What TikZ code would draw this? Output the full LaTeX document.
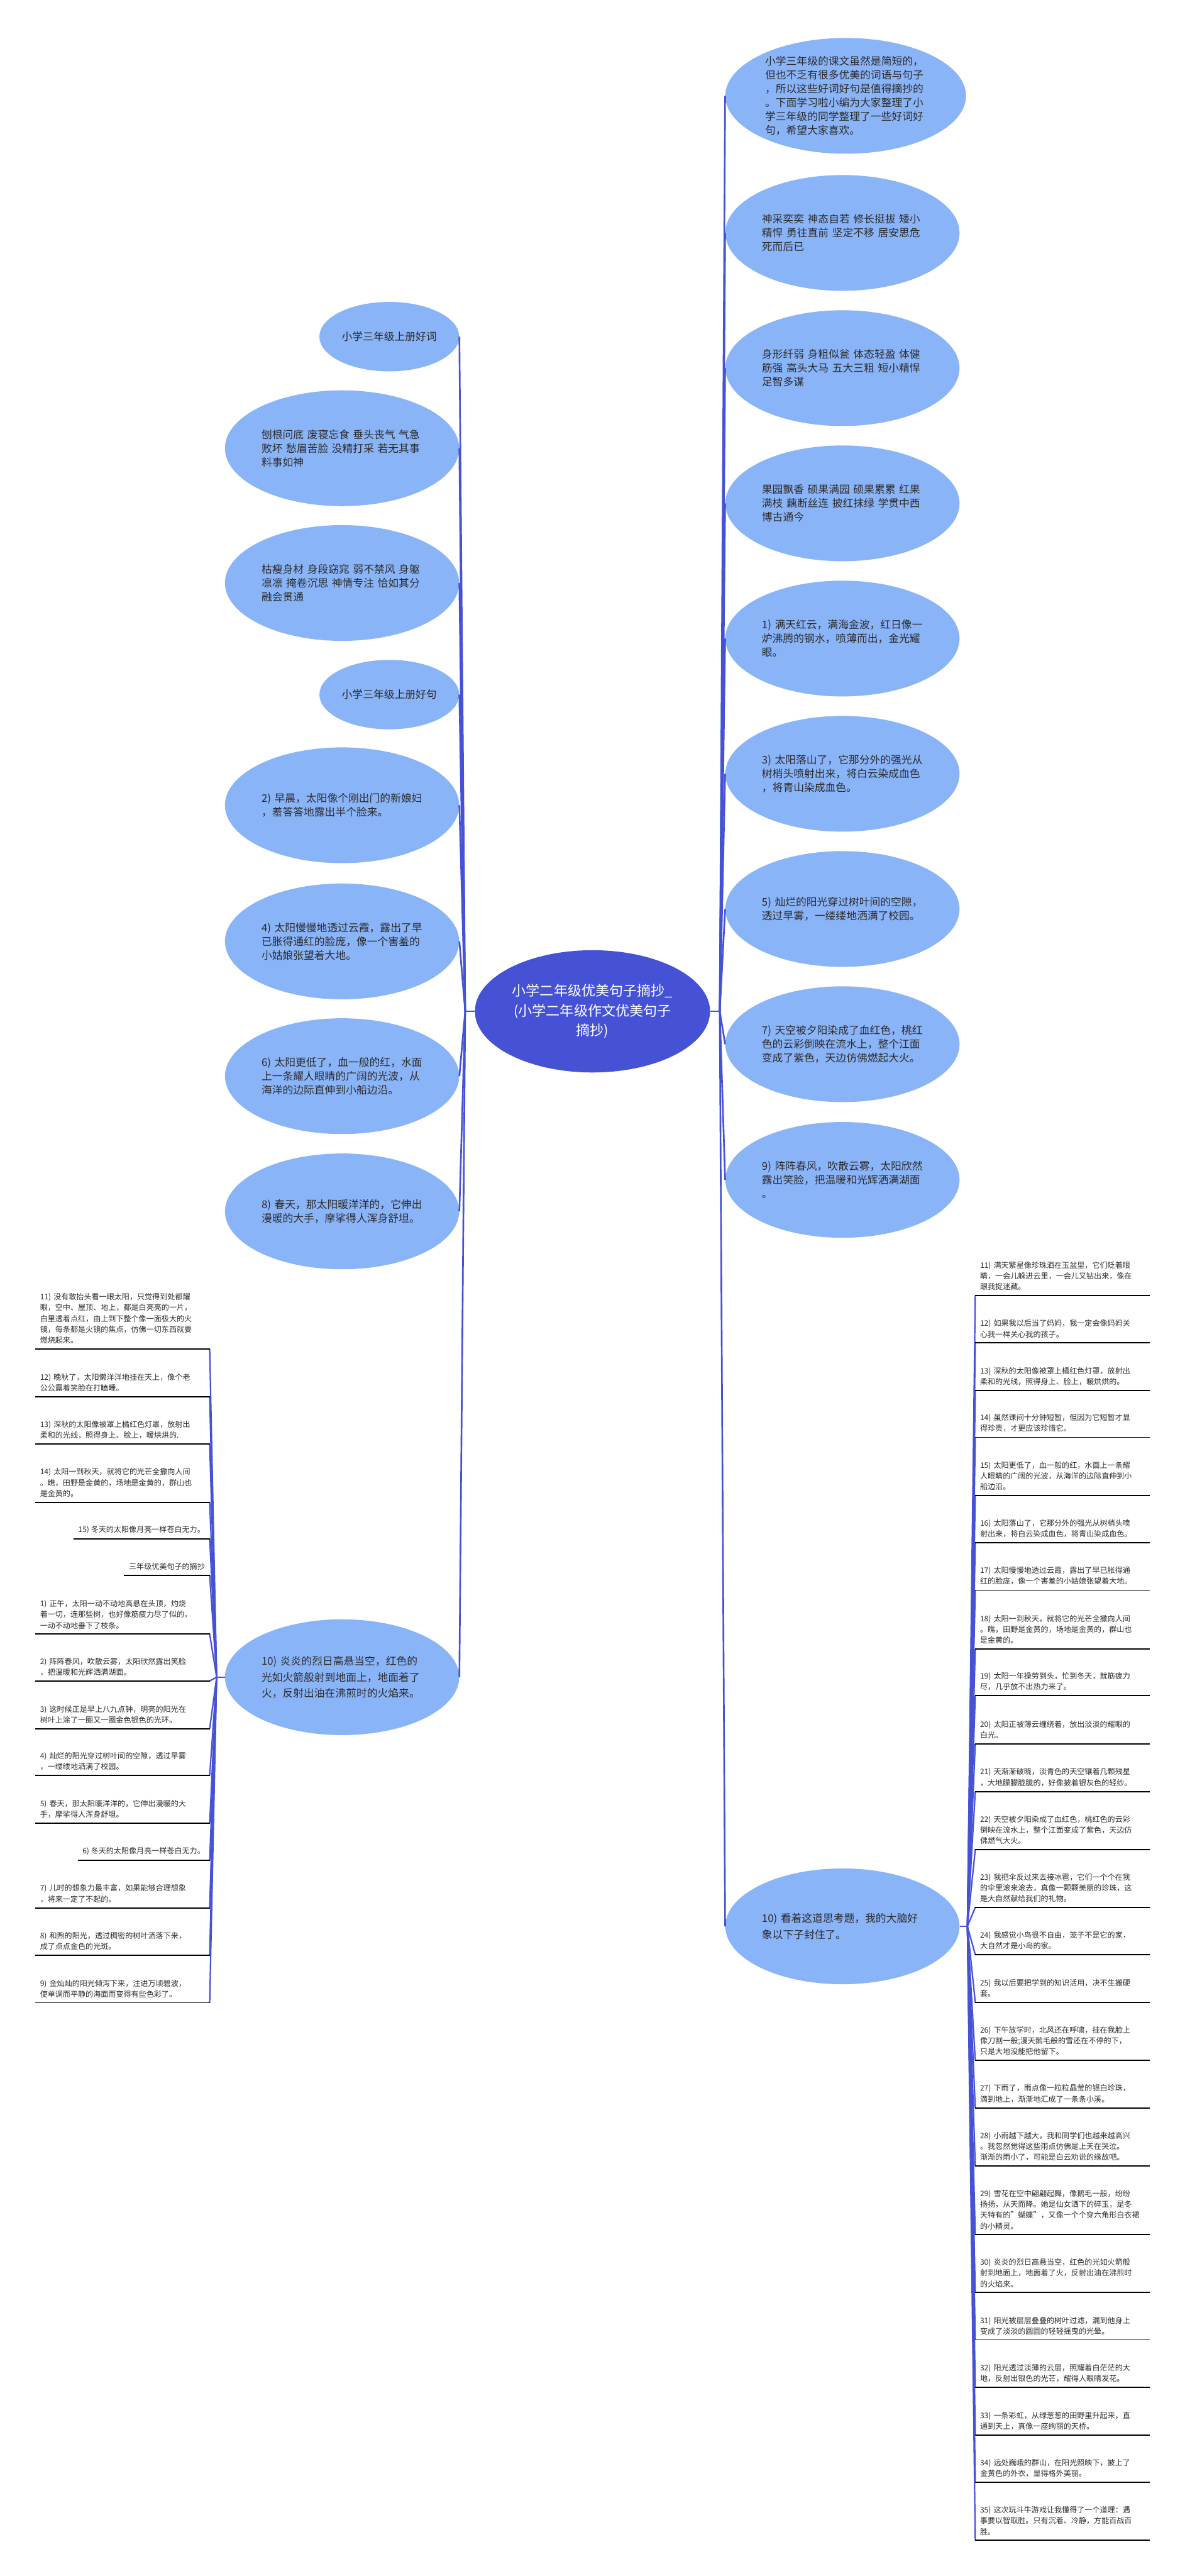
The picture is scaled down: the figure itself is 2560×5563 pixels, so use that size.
\documentclass[tikz,border=0pt]{standalone}
\usepackage{fontspec}
\setmainfont{Noto Sans CJK SC}
\usetikzlibrary{shapes.geometric}
\definecolor{bubblue}{HTML}{8AB4F8}
\definecolor{hubblue}{HTML}{4552D5}
\definecolor{inkgray}{HTML}{2B2B2B}

\begin{document}
\begin{tikzpicture}[x=0.5pt,y=-0.5pt,
  hub/.style={ellipse,fill=hubblue,text=white,inner sep=0pt,minimum width=254pt,minimum height=132pt,align=center,font=\fontsize{15}{21.5}\selectfont},
  bub/.style={ellipse,fill=bubblue,text=inkgray,inner sep=0pt,minimum width=253pt,minimum height=125pt,text width=174pt,align=left,font=\fontsize{11.4}{15}\selectfont},
  bubwide/.style={bub,font=\fontsize{11.4}{17.5}\selectfont},
  tag/.style={ellipse,fill=bubblue,text=inkgray,inner sep=0pt,minimum width=151pt,minimum height=75pt,font=\fontsize{11.4}{15}\selectfont},
  leaf/.style={inner xsep=5pt,inner ysep=5.4pt,text=inkgray,align=left,font=\fontsize{8.2}{11.7}\selectfont},
  rleaf/.style={leaf,text width=178pt,anchor=south west},
  lleaf/.style={leaf,text width=178pt,anchor=south east},
  lshort/.style={leaf,anchor=south east},
  link/.style={draw=hubblue,line width=1.8pt},
  twig/.style={draw=hubblue,line width=1.5pt},
  uline/.style={draw=black,line width=1.3pt}]
\path[fill=white] (0,0) rectangle (2560,5563);
\useasboundingbox (0,0) rectangle (2560,5563);

\node[hub] (root) at (1280,2184) {小学二年级优美句子摘抄\_\\(小学二年级作文优美句子\\摘抄)};
\coordinate (jl) at (1005,2184);
\coordinate (jr) at (1555,2184);

\node[bub,minimum width=260pt] (ri) at (1827,207) {小学三年级的课文虽然是简短的，\\但也不乏有很多优美的词语与句子\\，所以这些好词好句是值得摘抄的\\。下面学习啦小编为大家整理了小\\学三年级的同学整理了一些好词好\\句，希望大家喜欢。};
\node[bub] (rw1) at (1820,503) {神采奕奕 神态自若 修长挺拔 矮小\\精悍 勇往直前 坚定不移 居安思危\\死而后已};
\node[bub] (rw2) at (1820,795) {身形纤弱 身粗似瓮 体态轻盈 体健\\筋强 高头大马 五大三粗 短小精悍\\足智多谋};
\node[bub] (rw3) at (1820,1087) {果园飘香 硕果满园 硕果累累 红果\\满枝 藕断丝连 披红抹绿 学贯中西\\博古通今};
\node[bub] (rs1) at (1820,1379) {1) 满天红云，满海金波，红日像一\\炉沸腾的钢水，喷薄而出，金光耀\\眼。};
\node[bub] (rs3) at (1820,1671) {3) 太阳落山了，它那分外的强光从\\树梢头喷射出来，将白云染成血色\\，将青山染成血色。};
\node[bub] (rs5) at (1820,1963) {5) 灿烂的阳光穿过树叶间的空隙，\\透过早雾，一缕缕地洒满了校园。};
\node[bub] (rs7) at (1820,2255) {7) 天空被夕阳染成了血红色，桃红\\色的云彩倒映在流水上，整个江面\\变成了紫色，天边仿佛燃起大火。};
\node[bub] (rs9) at (1820,2548) {9) 阵阵春风，吹散云雾，太阳欣然\\露出笑脸，把温暖和光辉洒满湖面\\。};
\node[bubwide] (rs10) at (1820,4160) {10) 看着这道思考题，我的大脑好\\象以下子封住了。};

\node[tag] (lw1) at (841,727) {小学三年级上册好词};
\node[bub] (lw2) at (739,968) {刨根问底 废寝忘食 垂头丧气 气急\\败坏 愁眉苦脸 没精打采 若无其事\\料事如神};
\node[bub] (lw3) at (739,1259) {枯瘦身材 身段窈窕 弱不禁风 身躯\\凛凛 掩卷沉思 神情专注 恰如其分\\融会贯通};
\node[tag] (lw4) at (841,1500) {小学三年级上册好句};
\node[bub] (ls2) at (739,1739) {2) 早晨，太阳像个刚出门的新娘妇\\，羞答答地露出半个脸来。};
\node[bub] (ls4) at (739,2033) {4) 太阳慢慢地透过云霞，露出了早\\已胀得通红的脸庞，像一个害羞的\\小姑娘张望着大地。};
\node[bub] (ls6) at (739,2324) {6) 太阳更低了，血一般的红，水面\\上一条耀人眼睛的广阔的光波，从\\海洋的边际直伸到小船边沿。};
\node[bub] (ls8) at (739,2616) {8) 春天，那太阳暖洋洋的，它伸出\\漫暖的大手，摩挲得人浑身舒坦。};
\node[bubwide] (ls10) at (739,3622) {10) 炎炎的烈日高悬当空，红色的\\光如火箭般射到地面上，地面着了\\火，反射出油在沸煎时的火焰来。};

\coordinate (jl2) at (468,3622);
\coordinate (jr2) at (2090,4160);

\node[lleaf] (la11) at (453,2913) {11) 没有敢抬头看一眼太阳，只觉得到处都耀\\眼，空中、屋顶、地上，都是白亮亮的一片，\\白里透着点红，由上到下整个像一面极大的火\\镜，每条都是火镜的焦点，仿佛一切东西就要\\燃烧起来。};
\node[lleaf] (la12) at (453,3016) {12) 晚秋了，太阳懒洋洋地挂在天上，像个老\\公公露着笑脸在打瞌睡。};
\node[lleaf] (la13) at (453,3118) {13) 深秋的太阳像被罩上橘红色灯罩，放射出\\柔和的光线，照得身上、脸上，暖烘烘的.};
\node[lleaf] (la14) at (453,3244) {14) 太阳一到秋天，就将它的光芒全撒向人间\\。瞧，田野是金黄的，场地是金黄的，群山也\\是金黄的。};
\node[lshort] (la15) at (453,3323) {15) 冬天的太阳像月亮一样苍白无力。};
\node[lshort] (lhead) at (453,3402) {三年级优美句子的摘抄};
\node[lleaf] (lb1) at (453,3529) {1) 正午，太阳一动不动地高悬在头顶，灼烧\\着一切，连那些树，也好像筋疲力尽了似的，\\一动不动地垂下了枝条。};
\node[lleaf] (lb2) at (453,3630) {2) 阵阵春风，吹散云雾，太阳欣然露出笑脸\\，把温暖和光辉洒满湖面。};
\node[lleaf] (lb3) at (453,3733) {3) 这时候正是早上八九点钟，明亮的阳光在\\树叶上涂了一圈又一圈金色银色的光环。};
\node[lleaf] (lb4) at (453,3834) {4) 灿烂的阳光穿过树叶间的空隙，透过早雾\\，一缕缕地洒满了校园。};
\node[lleaf] (lb5) at (453,3937) {5) 春天，那太阳暖洋洋的，它伸出漫暖的大\\手，摩挲得人浑身舒坦。};
\node[lshort] (lb6) at (453,4017) {6) 冬天的太阳像月亮一样苍白无力。};
\node[lleaf] (lb7) at (453,4120) {7) 儿时的想象力最丰富，如果能够合理想象\\，将来一定了不起的。};
\node[lleaf] (lb8) at (453,4222) {8) 和煦的阳光，透过稠密的树叶洒落下来，\\成了点点金色的光斑。};
\node[lleaf] (lb9) at (453,4325) {9) 金灿灿的阳光倾泻下来，注进万顷碧波，\\使单调而平静的海面而变得有些色彩了。};

\node[rleaf] (rc11) at (2107,2798) {11) 满天繁星像珍珠洒在玉盆里，它们眨着眼\\睛，一会儿躲进云里，一会儿又钻出来，像在\\跟我捉迷藏。};
\node[rleaf] (rc12) at (2107,2900) {12) 如果我以后当了妈妈，我一定会像妈妈关\\心我一样关心我的孩子。};
\node[rleaf] (rc13) at (2107,3003) {13) 深秋的太阳像被罩上橘红色灯罩，放射出\\柔和的光线，照得身上、脸上，暖烘烘的。};
\node[rleaf] (rc14) at (2107,3104) {14) 虽然课间十分钟短暂，但因为它短暂才显\\得珍贵，才更应该珍惜它。};
\node[rleaf] (rc15) at (2107,3230) {15) 太阳更低了，血一般的红，水面上一条耀\\人眼睛的广阔的光波，从海洋的边际直伸到小\\船边沿。};
\node[rleaf] (rc16) at (2107,3332) {16) 太阳落山了，它那分外的强光从树梢头喷\\射出来，将白云染成血色，将青山染成血色。};
\node[rleaf] (rc17) at (2107,3434) {17) 太阳慢慢地透过云霞，露出了早已胀得通\\红的脸庞，像一个害羞的小姑娘张望着大地。};
\node[rleaf] (rc18) at (2107,3561) {18) 太阳一到秋天，就将它的光芒全撒向人间\\。瞧，田野是金黄的，场地是金黄的，群山也\\是金黄的。};
\node[rleaf] (rc19) at (2107,3662) {19) 太阳一年操劳到头，忙到冬天，就筋疲力\\尽，几乎放不出热力来了。};
\node[rleaf] (rc20) at (2107,3766) {20) 太阳正被薄云缠绕着，放出淡淡的耀眼的\\白光。};
\node[rleaf] (rc21) at (2107,3869) {21) 天渐渐破晓，淡青色的天空镶着几颗残星\\，大地朦朦胧胧的，好像披着银灰色的轻纱。};
\node[rleaf] (rc22) at (2107,3994) {22) 天空被夕阳染成了血红色，桃红色的云彩\\倒映在流水上，整个江面变成了紫色，天边仿\\佛燃气大火。};
\node[rleaf] (rc23) at (2107,4119) {23) 我把伞反过来去接冰雹，它们一个个在我\\的伞里滚来滚去，真像一颗颗美丽的珍珠，这\\是大自然献给我们的礼物。};
\node[rleaf] (rc24) at (2107,4221) {24) 我感觉小鸟很不自由，笼子不是它的家，\\大自然才是小鸟的家。};
\node[rleaf] (rc25) at (2107,4324) {25) 我以后要把学到的知识活用，决不生搬硬\\套。};
\node[rleaf] (rc26) at (2107,4449) {26) 下午放学时，北风还在呼啸，挂在我脸上\\像刀割一般;漫天鹅毛般的雪还在不停的下，\\只是大地没能把他留下。};
\node[rleaf] (rc27) at (2107,4552) {27) 下雨了，雨点像一粒粒晶莹的银白珍珠，\\滴到地上，渐渐地汇成了一条条小溪。};
\node[rleaf] (rc28) at (2107,4678) {28) 小雨越下越大，我和同学们也越来越高兴\\。我忽然觉得这些雨点仿佛是上天在哭泣。\\渐渐的雨小了，可能是白云劝说的缘故吧。};
\node[rleaf] (rc29) at (2107,4826) {29) 雪花在空中翩翩起舞，像鹅毛一般，纷纷\\扬扬，从天而降。她是仙女洒下的碎玉，是冬\\天特有的"蝴蝶"，又像一个个穿六角形白衣裙\\的小精灵。};
\node[rleaf] (rc30) at (2107,4951) {30) 炎炎的烈日高悬当空，红色的光如火箭般\\射到地面上，地面着了火，反射出油在沸煎时\\的火焰来。};
\node[rleaf] (rc31) at (2107,5053) {31) 阳光被层层叠叠的树叶过滤，漏到他身上\\变成了淡淡的圆圆的轻轻摇曳的光晕。};
\node[rleaf] (rc32) at (2107,5156) {32) 阳光透过淡薄的云层，照耀着白茫茫的大\\地，反射出银色的光芒，耀得人眼睛发花。};
\node[rleaf] (rc33) at (2107,5259) {33) 一条彩虹，从绿葱葱的田野里升起来，直\\通到天上，真像一座绚丽的天桥。};
\node[rleaf] (rc34) at (2107,5361) {34) 远处巍峨的群山，在阳光照映下，披上了\\金黄色的外衣，显得格外美丽。};
\node[rleaf] (rc35) at (2107,5486) {35) 这次玩斗牛游戏让我懂得了一个道理：遇\\事要以智取胜。只有沉着、冷静，方能百战百\\胜。};

\draw[link] (root.west) -- (jl);
\draw[link] (root.east) -- (jr);
\foreach \n in {ri,rw1,rw2,rw3,rs1,rs3,rs5,rs7,rs9,rs10}
  \draw[link] (jr) -- (\n.west);
\foreach \n in {lw1,lw2,lw3,lw4,ls2,ls4,ls6,ls8,ls10}
  \draw[link] (jl) -- (\n.east);
\draw[link] (ls10.west) -- (jl2);
\draw[link] (rs10.east) -- (jr2);
\foreach \i in {11,...,35}{
  \draw[twig] (jr2) -- (rc\i.south west);
  \draw[uline] (rc\i.south west) -- (rc\i.south east);}
\foreach \n in {la11,la12,la13,la14,la15,lhead,lb1,lb2,lb3,lb4,lb5,lb6,lb7,lb8,lb9}{
  \draw[twig] (jl2) -- (\n.south east);
  \draw[uline] (\n.south west) -- (\n.south east);}
\end{tikzpicture}
\end{document}
